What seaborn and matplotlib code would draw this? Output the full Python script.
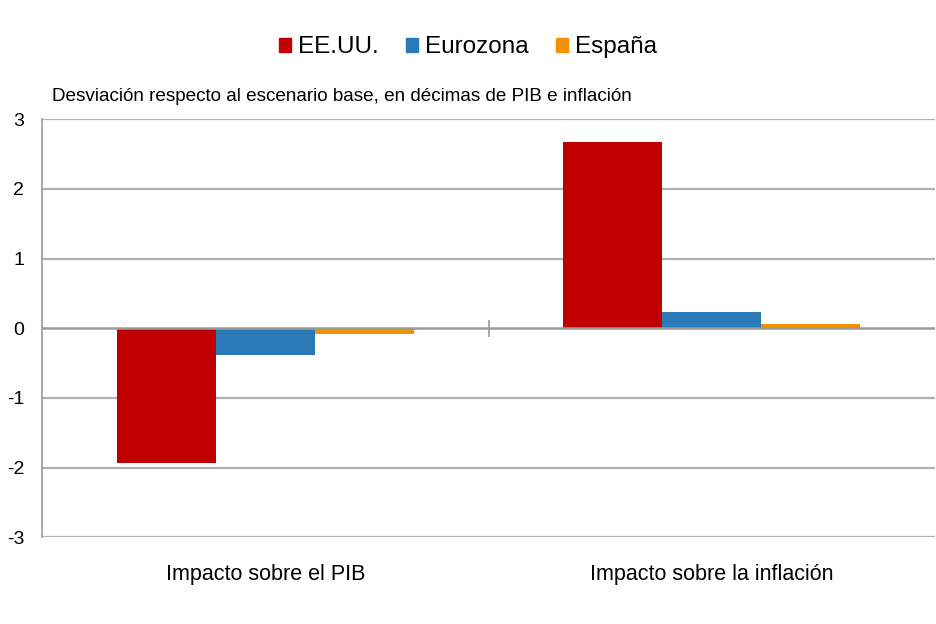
import matplotlib
matplotlib.use('Agg')
import matplotlib.pyplot as plt
import seaborn as sns
import pandas as pd
import numpy as np
from matplotlib import font_manager

# data
categorias = ['Impacto sobre el PIB', 'Impacto sobre la inflación']
series = ['EE.UU.', 'Eurozona', 'España']
eeuu = [-1.93, 2.67]
eurozona = [-0.39, 0.24]
espana = [-0.09, 0.06]
colores = ['#C00000', '#2A7AB8', '#F39200']
yticks = [-3, -2, -1, 0, 1, 2, 3]

df = pd.DataFrame({
    'categoria': categorias * 3,
    'serie': [s for s in series for _ in categorias],
    'valor': eeuu + eurozona + espana,
})

sns.set_style('white')
fams = [f.name for f in font_manager.fontManager.ttflist]
narrow = 'Liberation Sans Narrow' if 'Liberation Sans Narrow' in fams else 'Liberation Sans'
plt.rcParams['font.family'] = [narrow, 'DejaVu Sans']
plt.rcParams['text.color'] = 'black'
plt.rcParams['xtick.color'] = 'black'
plt.rcParams['ytick.color'] = 'black'

fig = plt.figure(figsize=(9.36, 6.24), dpi=100)
ax = fig.add_axes([0.045, 0.139, 0.954, 0.67])

sns.barplot(data=df, x='categoria', y='valor', hue='serie', order=categorias,
            hue_order=series, palette=colores, width=0.665, gap=0,
            linewidth=0, saturation=1, ax=ax, legend=False)

ax.set_ylim(-3, 3)
ax.set_xlim(-0.5, len(categorias) - 0.5)
ax.set_yticks(yticks)
ax.set_yticklabels([str(t) for t in yticks], fontsize=14)
ax.set_xlabel('')
ax.set_ylabel('')
ax.tick_params(axis='y', length=0, pad=13)
ax.tick_params(axis='x', length=0, pad=19, labelsize=15.5)

# grid and axis lines
for t in yticks:
    if t != 0:
        ax.axhline(t, color='#b0b0b0', lw=1.6, zorder=0)
ax.axhline(0, color='#9a9a9a', lw=1.8, zorder=3)
mid = len(categorias) / 2 - 0.5
ax.vlines(mid, -0.12, 0.12, color='#9a9a9a', lw=1.2, zorder=3)
for s in ['top', 'right', 'bottom']:
    ax.spines[s].set_visible(False)
ax.spines['left'].set_color('#9a9a9a')
ax.spines['left'].set_linewidth(1.2)

# legend
handles = [plt.Rectangle((0, 0), 1, 1, color=c) for c in colores]
fig.legend(handles, series, loc='center', bbox_to_anchor=(0.5, 0.924), ncol=3,
           frameon=False, fontsize=17.5, handlelength=0.5, handleheight=0.5,
           handletextpad=0.3, columnspacing=1.1)

fig.text(0.056, 0.845, 'Desviación respecto al escenario base, en décimas de PIB e inflación',
         fontsize=13.6, va='center', ha='left')

fig.savefig('out.png', dpi=100)
